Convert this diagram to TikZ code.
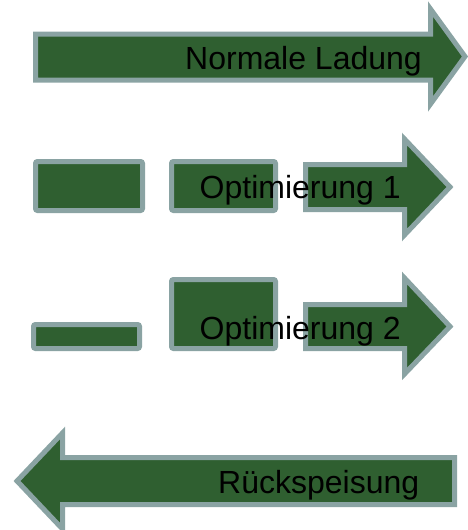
\documentclass[tikz,border=0pt]{standalone}
\usepackage{fontspec}
\setmainfont{Liberation Sans}
\definecolor{barfill}{HTML}{2F5F30}
\definecolor{baredge}{HTML}{8AA3A3}

\begin{document}
\begin{tikzpicture}[x=1pt,y=-1pt,
  bar/.style={draw=baredge,fill=barfill,line width=5pt,line join=miter},
  blk/.style={bar,rounded corners=2pt},
  lbl/.style={anchor=base west,inner sep=0pt,font=\fontsize{32}{38}\selectfont}]
\useasboundingbox (0,0) rectangle (468,530);
% normale Ladung
\draw[bar] (35.5,34) -- (430.5,34) -- (430.5,9) -- (465,56.5) -- (430.5,104)
  -- (430.5,80) -- (35.5,80) -- cycle;
\node[lbl] (normal) at (185,69) {Normale Ladung};
% Optimierung 1
\draw[blk] (35.5,161.5) rectangle (142.5,210.5);
\draw[blk] (171.5,161.5) rectangle (275.5,210.5);
\draw[bar] (305.5,164.5) -- (404.5,164.5) -- (404.5,139) -- (450,187) -- (404.5,235)
  -- (404.5,209.5) -- (305.5,209.5) -- cycle;
\node[lbl] (opt1) at (199.5,198) {Optimierung 1};
% Optimierung 2
\draw[blk] (33.5,324.5) rectangle (139.5,348.5);
\draw[blk] (171.5,279.5) rectangle (275.5,348.5);
\draw[bar] (305.5,304.5) -- (404.5,304.5) -- (404.5,278) -- (450,326.5) -- (404.5,374)
  -- (404.5,348.5) -- (305.5,348.5) -- cycle;
\node[lbl] (opt2) at (199.5,339) {Optimierung 2};
% Rueckspeisung
\draw[bar] (454.5,457.5) -- (62.5,457.5) -- (62.5,433) -- (17,481) -- (62.5,529)
  -- (62.5,504.5) -- (454.5,504.5) -- cycle;
\node[lbl] (rueck) at (218,493) {Rückspeisung};
\end{tikzpicture}
\end{document}
